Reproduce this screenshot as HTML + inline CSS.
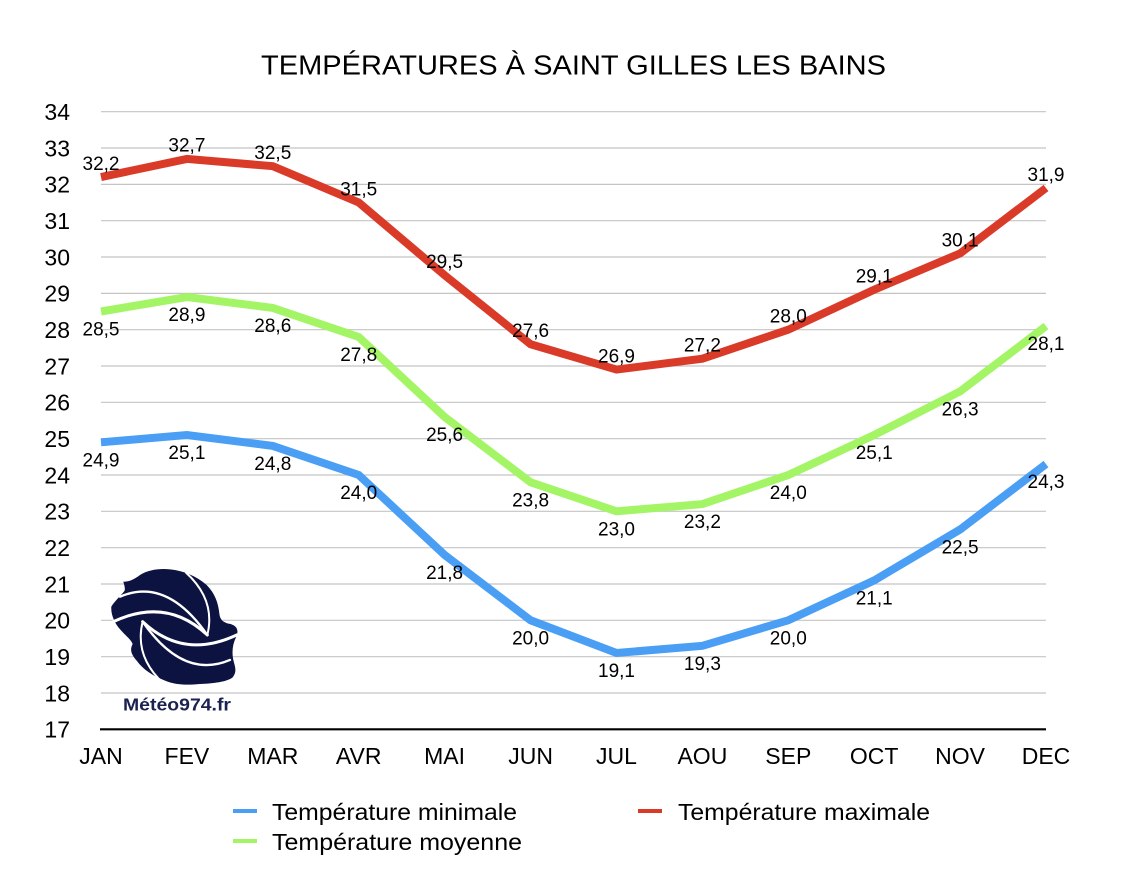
<!DOCTYPE html>
<html>
<head>
<meta charset="utf-8">
<style>
  html, body { margin: 0; padding: 0; background: #ffffff; }
  svg { display: block; }
  text { font-family: "Liberation Sans", Arial, sans-serif; fill: #000; }
</style>
</head>
<body>
<svg width="1144" height="878" viewBox="0 0 1144 878" xmlns="http://www.w3.org/2000/svg">
  <rect x="0" y="0" width="1144" height="878" fill="#ffffff"/>

  <!-- Title -->
  <text x="261" y="74.5" font-size="27.5" textLength="625" lengthAdjust="spacingAndGlyphs">TEMPÉRATURES À SAINT GILLES LES BAINS</text>

  <!-- Gridlines -->
  <g stroke="#c4c4c4" stroke-width="1.2">
    <line x1="101" y1="111.7" x2="1046" y2="111.7"/>
    <line x1="101" y1="148.0" x2="1046" y2="148.0"/>
    <line x1="101" y1="184.4" x2="1046" y2="184.4"/>
    <line x1="101" y1="220.7" x2="1046" y2="220.7"/>
    <line x1="101" y1="257.0" x2="1046" y2="257.0"/>
    <line x1="101" y1="293.4" x2="1046" y2="293.4"/>
    <line x1="101" y1="329.7" x2="1046" y2="329.7"/>
    <line x1="101" y1="366.0" x2="1046" y2="366.0"/>
    <line x1="101" y1="402.3" x2="1046" y2="402.3"/>
    <line x1="101" y1="438.7" x2="1046" y2="438.7"/>
    <line x1="101" y1="475.0" x2="1046" y2="475.0"/>
    <line x1="101" y1="511.3" x2="1046" y2="511.3"/>
    <line x1="101" y1="547.7" x2="1046" y2="547.7"/>
    <line x1="101" y1="584.0" x2="1046" y2="584.0"/>
    <line x1="101" y1="620.3" x2="1046" y2="620.3"/>
    <line x1="101" y1="656.7" x2="1046" y2="656.7"/>
    <line x1="101" y1="693.0" x2="1046" y2="693.0"/>
  </g>
  <line x1="100" y1="729.3" x2="1046" y2="729.3" stroke="#000" stroke-width="2.2"/>

  <!-- Y axis labels -->
  <g font-size="23" text-anchor="end">
    <text x="70" y="120">34</text>
    <text x="70" y="156.3">33</text>
    <text x="70" y="192.7">32</text>
    <text x="70" y="229">31</text>
    <text x="70" y="265.3">30</text>
    <text x="70" y="301.7">29</text>
    <text x="70" y="338">28</text>
    <text x="70" y="374.3">27</text>
    <text x="70" y="410.6">26</text>
    <text x="70" y="447">25</text>
    <text x="70" y="483.3">24</text>
    <text x="70" y="519.6">23</text>
    <text x="70" y="556">22</text>
    <text x="70" y="592.3">21</text>
    <text x="70" y="628.6">20</text>
    <text x="70" y="665">19</text>
    <text x="70" y="701.3">18</text>
    <text x="70" y="737.6">17</text>
  </g>

  <!-- X axis labels -->
  <g font-size="23" text-anchor="middle">
    <text x="101" y="764">JAN</text>
    <text x="186.9" y="764">FEV</text>
    <text x="272.8" y="764">MAR</text>
    <text x="358.7" y="764">AVR</text>
    <text x="444.6" y="764">MAI</text>
    <text x="530.6" y="764">JUN</text>
    <text x="616.5" y="764">JUL</text>
    <text x="702.4" y="764">AOU</text>
    <text x="788.3" y="764">SEP</text>
    <text x="874.2" y="764">OCT</text>
    <text x="960.1" y="764">NOV</text>
    <text x="1046" y="764">DEC</text>
  </g>

  <!-- Logo -->
  <g transform="translate(100,560) scale(0.3333)">
    <path fill="#0c1340" d="M70,65 C85,66 100,60 120,45 C145,30 175,25 210,28 C250,32 290,48 320,75 C345,100 355,130 358,160 C360,178 368,188 392,192 C410,198 418,210 408,232 C398,252 395,275 400,300 C405,320 412,335 398,352 C380,366 340,370 300,372 C260,376 225,375 195,362 C160,348 130,330 110,302 C95,285 88,270 98,252 C92,238 78,228 62,210 C45,192 32,165 34,140 C45,122 62,108 74,92 C76,82 72,74 70,65 Z"/>
    <g fill="none" stroke="#ffffff" stroke-linecap="round">
      <path d="M60,110 Q200,50 322,225" stroke-width="7"/>
      <path d="M40,185 Q200,110 322,225" stroke-width="9"/>
      <path d="M390,300 Q250,360 128,185" stroke-width="7"/>
      <path d="M410,225 Q250,300 128,185" stroke-width="9"/>
      <path d="M258,38 Q348,120 322,225" stroke-width="6"/>
      <path d="M192,372 Q102,290 128,185" stroke-width="6"/>
    </g>
  </g>
  <text x="123" y="710.5" font-size="17.5" font-weight="bold" style="fill:#1b2150" textLength="108" lengthAdjust="spacingAndGlyphs">Météo974.fr</text>

  <!-- Series lines -->
  <g fill="none" stroke-width="8" stroke-linejoin="miter" stroke-miterlimit="4">
    <polyline stroke="#4a9ff5" points="101,442.3 186.9,435.0 272.8,445.9 358.7,475.0 444.6,554.9 530.6,620.3 616.5,653.0 702.4,645.8 788.3,620.3 874.2,580.4 960.1,529.5 1046,464.1"/>
    <polyline stroke="#a4f566" points="101,311.5 186.9,297.0 272.8,307.9 358.7,337.0 444.6,416.9 530.6,482.3 616.5,511.3 702.4,504.1 788.3,475.0 874.2,435.0 960.1,391.4 1046,326.1"/>
    <polyline stroke="#da3b29" points="101,177.1 186.9,158.9 272.8,166.2 358.7,202.5 444.6,275.2 530.6,344.2 616.5,369.6 702.4,358.7 788.3,329.7 874.2,289.7 960.1,253.4 1046,188.0"/>
  </g>

  <!-- Data labels -->
  <g font-size="19" text-anchor="middle">
    <text x="101" y="170.1">32,2</text>
    <text x="186.9" y="151.5">32,7</text>
    <text x="272.8" y="159.2">32,5</text>
    <text x="358.7" y="195.5">31,5</text>
    <text x="444.6" y="268.2">29,5</text>
    <text x="530.6" y="337.2">27,6</text>
    <text x="616.5" y="362.6">26,9</text>
    <text x="702.4" y="351.7">27,2</text>
    <text x="788.3" y="322.7">28,0</text>
    <text x="874.2" y="282.7">29,1</text>
    <text x="960.1" y="246.4">30,1</text>
    <text x="1046" y="181">31,9</text>
    <text x="101" y="335.5">28,5</text>
    <text x="186.9" y="321">28,9</text>
    <text x="272.8" y="331.9">28,6</text>
    <text x="358.7" y="361">27,8</text>
    <text x="444.6" y="440.9">25,6</text>
    <text x="530.6" y="506.3">23,8</text>
    <text x="616.5" y="535.3">23,0</text>
    <text x="702.4" y="528.1">23,2</text>
    <text x="788.3" y="499">24,0</text>
    <text x="874.2" y="459">25,1</text>
    <text x="960.1" y="415.4">26,3</text>
    <text x="1046" y="350.1">28,1</text>
    <text x="101" y="466.3">24,9</text>
    <text x="186.9" y="459">25,1</text>
    <text x="272.8" y="469.9">24,8</text>
    <text x="358.7" y="499">24,0</text>
    <text x="444.6" y="578.9">21,8</text>
    <text x="530.6" y="644.3">20,0</text>
    <text x="616.5" y="677">19,1</text>
    <text x="702.4" y="669.8">19,3</text>
    <text x="788.3" y="644.3">20,0</text>
    <text x="874.2" y="604.4">21,1</text>
    <text x="960.1" y="553.5">22,5</text>
    <text x="1046" y="488.1">24,3</text>
  </g>

  <!-- Legend -->
  <line x1="233" y1="811" x2="257" y2="811" stroke="#4a9ff5" stroke-width="4"/>
  <text x="272" y="820" font-size="23.5" textLength="245" lengthAdjust="spacingAndGlyphs">Température minimale</text>
  <line x1="638" y1="811" x2="662" y2="811" stroke="#da3b29" stroke-width="4"/>
  <text x="678" y="820" font-size="23.5" textLength="252" lengthAdjust="spacingAndGlyphs">Température maximale</text>
  <line x1="233" y1="841" x2="257" y2="841" stroke="#a4f566" stroke-width="4"/>
  <text x="272" y="850" font-size="23.5" textLength="250" lengthAdjust="spacingAndGlyphs">Température moyenne</text>
</svg>
</body>
</html>
